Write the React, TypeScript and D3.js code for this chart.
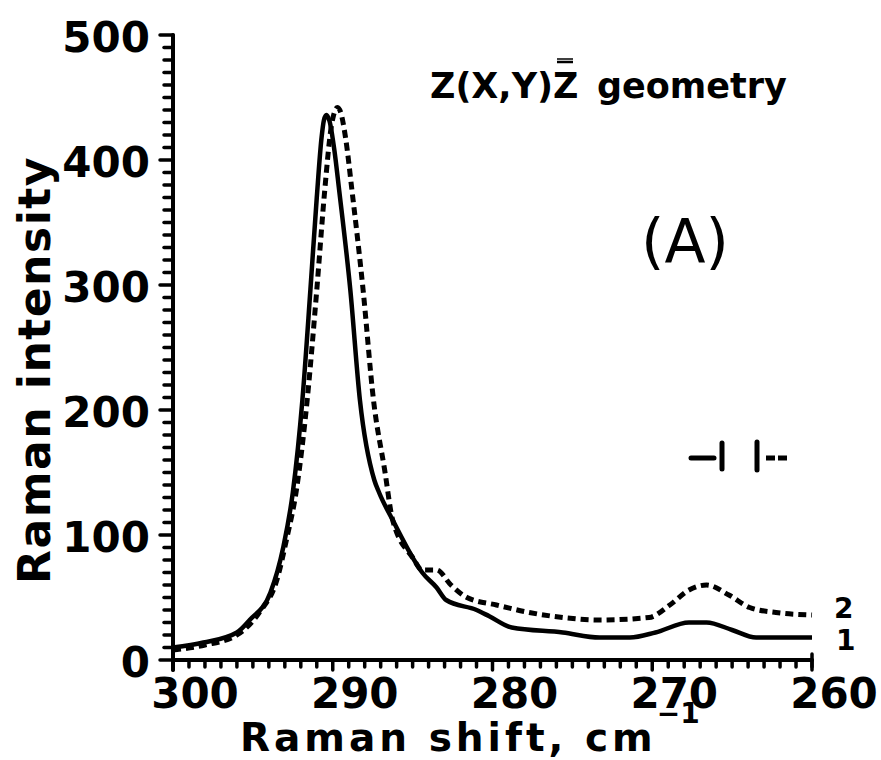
import React from "react";
import * as d3 from "d3";

// Spectrum 1 (solid line): Raman shift (cm-1) and intensity
const shift1 = [300, 298.1, 296, 295.2, 293.9, 293.1, 292.5, 291.9, 291.4, 291.0, 290.7, 290.55, 290.4, 290.2, 289.9, 289.6, 288.9, 288.3, 287.4, 287.1, 286.25, 285, 284.4, 283.5, 282.9, 281, 280.2, 278.8, 275.6, 273.3, 271.4, 269.8, 267.7, 266.6, 265, 263.5, 260];
const intensity1 = [10, 14, 22, 32, 54, 90, 134, 208, 296, 370, 418, 432, 436, 431, 408, 376, 296, 208, 144, 134, 112, 82, 70, 58, 48, 40, 35, 26, 22, 18, 18, 22, 30, 30, 24, 18, 18];

// Spectrum 2 (dashed line)
const shift2 = [300, 298, 296, 294.6, 293.5, 292.9, 292.25, 291.6, 291, 290.5, 290.1, 289.9, 289.7, 289.5, 289.2, 288.8, 288.1, 287.45, 286.75, 286.25, 285, 284.4, 283.5, 282.6, 281.6, 279.75, 277.7, 275.6, 273.3, 270.2, 268.9, 267.7, 266.6, 265.2, 263.9, 262.25, 260];
const intensity2 = [8, 12, 20, 38, 64, 96, 138, 208, 296, 376, 426, 438, 442, 438, 418, 376, 296, 208, 152, 112, 82, 72, 72, 60, 50, 44, 38, 34, 32, 34, 44, 56, 60, 52, 42, 38, 36];

const xTickValues = [300, 290, 280, 270, 260];
const yTickValues = [0, 100, 200, 300, 400, 500];
const seriesLabels = ["1", "2"];

const W = 881;
const H = 760;
const FONT = "'DejaVu Sans', sans-serif";

export default function App() {
  const x = d3.scaleLinear().domain([300, 260]).range([173, 812]);
  const y = d3.scaleLinear().domain([0, 500]).range([660, 35]);

  const line = d3
    .line<[number, number]>()
    .x((d) => x(d[0]))
    .y((d) => y(d[1]))
    .curve(d3.curveMonotoneX);

  const s1 = shift1.map((v, i) => [v, intensity1[i]] as [number, number]);
  const s2 = shift2.map((v, i) => [v, intensity2[i]] as [number, number]);

  const xMinor = d3.range(300, 259, -1);
  const yMinor = d3.range(0, 501, 10);

  const last1 = s1[s1.length - 1];
  const last2 = s2[s2.length - 1];

  return (
    <svg
      width={W}
      height={H}
      style={{ position: "absolute", left: 0, top: 0, background: "#fff" }}
      fontFamily={FONT}
    >
      {/* axes */}
      <g stroke="#000" strokeLinecap="round">
        <line x1={x(300)} x2={x(260)} y1={y(0)} y2={y(0)} strokeWidth={4} />
        <line x1={x(300)} x2={x(300)} y1={y(500)} y2={y(0) + 10} strokeWidth={4} />
        {xMinor.map((v) => (
          <line
            key={"xt" + v}
            x1={x(v)}
            x2={x(v)}
            y1={y(0)}
            y2={y(0) + (v % 10 === 0 ? 10 : 7)}
            strokeWidth={3.5}
          />
        ))}
        <line x1={x(260)} x2={x(260)} y1={y(0) - 6} y2={y(0) + 7} strokeWidth={3.5} />
        {yMinor.map((v) => (
          <line
            key={"yt" + v}
            x1={x(300)}
            x2={x(300) - (v % 100 === 0 ? 13 : 9)}
            y1={y(v)}
            y2={y(v)}
            strokeWidth={3.5}
          />
        ))}
      </g>

      {/* tick labels */}
      <g fontSize={42} fontWeight="bold" fill="#000">
        {yTickValues.map((v) => (
          <text key={"yl" + v} x={150} y={y(v) + 2} textAnchor="end" dominantBaseline="central">
            {v}
          </text>
        ))}
        {xTickValues.map((v) => (
          <text key={"xl" + v} x={x(v) + 22} y={708} textAnchor="middle">
            {v}
          </text>
        ))}
      </g>

      {/* axis titles */}
      <text x={240} y={751} fontSize={39} fontWeight="bold" letterSpacing={4} fill="#000">
        Raman shift, cm
        <tspan fontSize={28} letterSpacing={0} dx={0} dy={-28}>
          −1
        </tspan>
      </text>
      <text
        transform="translate(50,370) rotate(-90)"
        textAnchor="middle"
        fontSize={44}
        fontWeight="bold"
        letterSpacing={1.5}
        fill="#000"
      >
        Raman intensity
      </text>

      {/* spectra */}
      <path d={line(s1) ?? ""} fill="none" stroke="#000" strokeWidth={4.5} strokeLinejoin="round" />
      <path
        d={line(s2) ?? ""}
        fill="none"
        stroke="#000"
        strokeWidth={5}
        strokeDasharray="8 5"
        strokeLinejoin="round"
      />

      {/* curve labels */}
      <g fontSize={28} fontWeight="bold" fill="#000">
        <text x={x(last2[0]) + 22} y={y(last2[1]) + 3}>
          {seriesLabels[1]}
        </text>
        <text x={x(last1[0]) + 24} y={y(last1[1]) + 12}>
          {seriesLabels[0]}
        </text>
      </g>

      {/* scattering geometry */}
      <text x={430} y={98} fontSize={35} fontWeight="bold" fill="#000">
        Z(X,Y)Z
      </text>
      <line x1={557} x2={573} y1={62} y2={62} stroke="#000" strokeWidth={2.5} />
      <line x1={557} x2={573} y1={59} y2={59} stroke="#000" strokeWidth={1.5} />
      <text x={597} y={98} fontSize={35} fontWeight="bold" fill="#000">
        geometry
      </text>

      <text x={685} y={262} fontSize={60} textAnchor="middle" fill="#000">
        (A)
      </text>

      {/* spectral slit width marker */}
      <g stroke="#000" strokeWidth={5} strokeLinecap="round">
        <line x1={691} x2={714} y1={458} y2={458} />
        <line x1={722} x2={722} y1={443} y2={469} />
        <line x1={757} x2={757} y1={442} y2={470} />
        <line x1={766} x2={789} y1={458} y2={458} strokeDasharray="9 3" strokeLinecap="butt" />
      </g>
    </svg>
  );
}
